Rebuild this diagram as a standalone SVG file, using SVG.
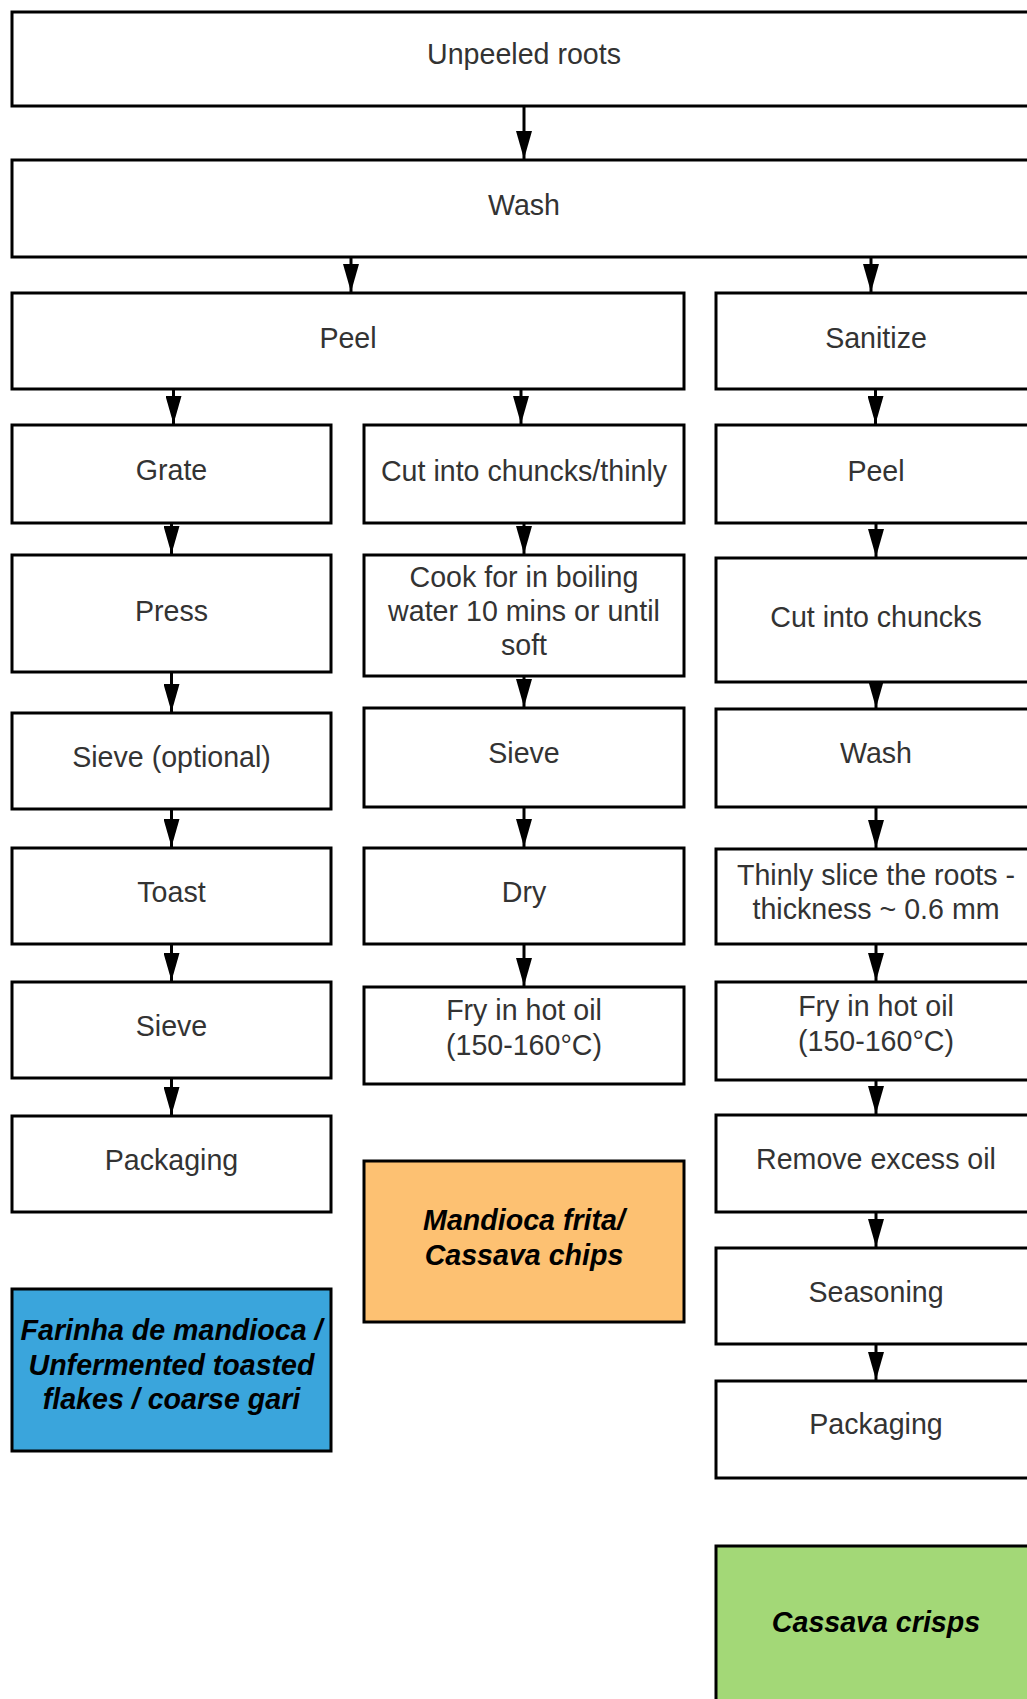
<svg xmlns="http://www.w3.org/2000/svg" width="1027" height="1699" viewBox="0 0 1027 1699">
<style>
.b{fill:#fff;stroke:#000;stroke-width:3}
.t{font-family:"Liberation Sans",Arial,sans-serif;font-size:28.6px;fill:#333;text-anchor:middle}
.bi{font-weight:bold;font-style:italic;fill:#000}
.c{stroke:#000;stroke-width:3;fill:none;marker-end:url(#ah)}
</style>
<defs>
<marker id="ah" markerUnits="userSpaceOnUse" markerWidth="28" markerHeight="16" refX="28" refY="8" orient="auto" viewBox="0 0 28 16"><path d="M0,0 L28,8 L0,16 Z" fill="#000"/></marker>
</defs>
<rect width="1027" height="1699" fill="#fff"/>
<g id="connectors">
<line class="c" x1="524" y1="106" x2="524" y2="159"/>
<line class="c" x1="351" y1="257" x2="351" y2="292"/>
<line class="c" x1="871" y1="257" x2="871" y2="292"/>
<line class="c" x1="173.5" y1="389" x2="173.5" y2="424"/>
<line class="c" x1="521" y1="389" x2="521" y2="424"/>
<line class="c" x1="875.5" y1="389" x2="875.5" y2="424"/>
<line class="c" x1="171.5" y1="523" x2="171.5" y2="554"/>
<line class="c" x1="171.5" y1="672" x2="171.5" y2="712"/>
<line class="c" x1="171.5" y1="809" x2="171.5" y2="847"/>
<line class="c" x1="171.5" y1="944" x2="171.5" y2="981"/>
<line class="c" x1="171.5" y1="1078" x2="171.5" y2="1115"/>
<line class="c" x1="524" y1="523" x2="524" y2="554"/>
<line class="c" x1="524" y1="676" x2="524" y2="707"/>
<line class="c" x1="524" y1="807" x2="524" y2="847"/>
<line class="c" x1="524" y1="944" x2="524" y2="986"/>
<line class="c" x1="876" y1="523" x2="876" y2="557"/>
<line class="c" x1="876" y1="682" x2="876" y2="708"/>
<line class="c" x1="876" y1="807" x2="876" y2="848"/>
<line class="c" x1="876" y1="944" x2="876" y2="981"/>
<line class="c" x1="876" y1="1080" x2="876" y2="1114"/>
<line class="c" x1="876" y1="1212" x2="876" y2="1247"/>
<line class="c" x1="876" y1="1344" x2="876" y2="1380"/>
</g>
<g id="nodes">
<g id="n-unpeeled"><rect class="b" x="12" y="12" width="1024" height="94"/><text class="t" x="524" y="64">Unpeeled roots</text></g>
<g id="n-wash"><rect class="b" x="12" y="160" width="1024" height="97"/><text class="t" x="524" y="215">Wash</text></g>
<g id="n-peel"><rect class="b" x="12" y="293" width="672" height="96"/><text class="t" x="348" y="348">Peel</text></g>
<g id="n-sanitize"><rect class="b" x="716" y="293" width="320" height="96"/><text class="t" x="876" y="348">Sanitize</text></g>

<g id="n-grate"><rect class="b" x="12" y="425" width="319" height="98"/><text class="t" x="171.5" y="480">Grate</text></g>
<g id="n-press"><rect class="b" x="12" y="555" width="319" height="117"/><text class="t" x="171.5" y="621">Press</text></g>
<g id="n-sieveopt"><rect class="b" x="12" y="713" width="319" height="96"/><text class="t" x="171.5" y="767">Sieve (optional)</text></g>
<g id="n-toast"><rect class="b" x="12" y="848" width="319" height="96"/><text class="t" x="171.5" y="902">Toast</text></g>
<g id="n-sieve1"><rect class="b" x="12" y="982" width="319" height="96"/><text class="t" x="171.5" y="1036">Sieve</text></g>
<g id="n-pack1"><rect class="b" x="12" y="1116" width="319" height="96"/><text class="t" x="171.5" y="1170">Packaging</text></g>
<g id="n-farinha"><rect class="b" x="12" y="1289" width="319" height="162" style="fill:#3aa5dc"/><text class="t bi" x="171.5" y="1340">Farinha de mandioca /</text><text class="t bi" x="171.5" y="1375">Unfermented toasted</text><text class="t bi" x="171.5" y="1409">flakes / coarse gari</text></g>

<g id="n-cut"><rect class="b" x="364" y="425" width="320" height="98"/><text class="t" x="524" y="481">Cut into chuncks/thinly</text></g>
<g id="n-cook"><rect class="b" x="364" y="555" width="320" height="121"/><text class="t" x="524" y="587">Cook for in boiling</text><text class="t" x="524" y="621">water 10 mins or until</text><text class="t" x="524" y="655">soft</text></g>
<g id="n-sieve2"><rect class="b" x="364" y="708" width="320" height="99"/><text class="t" x="524" y="763">Sieve</text></g>
<g id="n-dry"><rect class="b" x="364" y="848" width="320" height="96"/><text class="t" x="524" y="902">Dry</text></g>
<g id="n-fry2"><rect class="b" x="364" y="987" width="320" height="97"/><text class="t" x="524" y="1020">Fry in hot oil</text><text class="t" x="524" y="1055">(150-160°C)</text></g>
<g id="n-mandioca"><rect class="b" x="364" y="1161" width="320" height="161" style="fill:#fdc172"/><text class="t bi" x="524" y="1230">Mandioca frita/</text><text class="t bi" x="524" y="1265">Cassava chips</text></g>

<g id="n-peel3"><rect class="b" x="716" y="425" width="320" height="98"/><text class="t" x="876" y="481">Peel</text></g>
<g id="n-cut3"><rect class="b" x="716" y="558" width="320" height="124"/><text class="t" x="876" y="627">Cut into chuncks</text></g>
<g id="n-wash3"><rect class="b" x="716" y="709" width="320" height="98"/><text class="t" x="876" y="763">Wash</text></g>
<g id="n-slice"><rect class="b" x="716" y="849" width="320" height="95"/><text class="t" x="876" y="885">Thinly slice the roots -</text><text class="t" x="876" y="919">thickness ~ 0.6 mm</text></g>
<g id="n-fry3"><rect class="b" x="716" y="982" width="320" height="98"/><text class="t" x="876" y="1016">Fry in hot oil</text><text class="t" x="876" y="1051">(150-160°C)</text></g>
<g id="n-remove"><rect class="b" x="716" y="1115" width="320" height="97"/><text class="t" x="876" y="1169">Remove excess oil</text></g>
<g id="n-season"><rect class="b" x="716" y="1248" width="320" height="96"/><text class="t" x="876" y="1302">Seasoning</text></g>
<g id="n-pack3"><rect class="b" x="716" y="1381" width="320" height="97"/><text class="t" x="876" y="1434">Packaging</text></g>
<g id="n-crisps"><rect class="b" x="716" y="1546" width="320" height="170" style="fill:#a3d877"/><text class="t bi" x="876" y="1632">Cassava crisps</text></g>
</g>
</svg>
